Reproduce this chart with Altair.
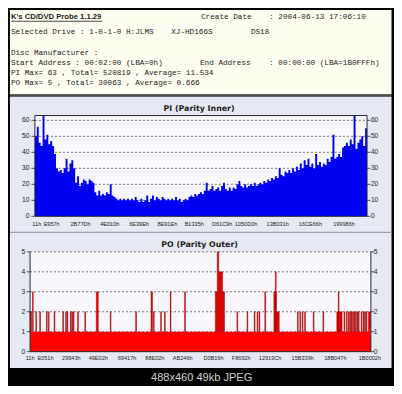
import altair as alt
import pandas as pd

# ---------------- data ----------------
header_title = "K's CD/DVD Probe 1.1.29"
header_texts = [
    "Create Date", ": 2004-06-13 17:06:10",
    "Selected Drive : 1-0-1-0 H:JLMS", "XJ-HD166S", "DS18",
    "Disc Manufacturer :",
    "Start Address  : 00:02:00 (LBA=0h)", "End Address", ": 00:00:00 (LBA=1B0FFFh)",
    "PI Max= 63 , Total= 520819 , Average= 11.534",
    "PO Max= 5 , Total= 30063 , Average= 0.666",
]
pi_title = "PI (Parity Inner)"
po_title = "PO (Parity Outer)"
footer_text = "488x460 49kb JPEG"

pi_values = [50, 56, 46, 44, 63, 48, 51, 45, 47, 44,
             39, 30, 28, 29, 27, 30, 36, 28, 33, 35,
             30, 21, 25, 19, 21, 23, 22, 20, 23, 22,
             21, 15, 13, 16, 13, 14, 13, 15, 14, 20,
             13, 12, 11, 10, 11, 10, 11, 10, 11, 10,
             11, 10, 12, 10, 9, 11, 9, 10, 13, 9,
             11, 13, 10, 12, 11, 10, 12, 11, 10, 11,
             10, 11, 10, 12, 10, 11, 9, 10, 11, 10,
             12, 13, 12, 14, 13, 14, 15, 14, 16, 21,
             16, 17, 19, 16, 17, 18, 16, 19, 21, 17,
             16, 18, 16, 18, 17, 20, 22, 19, 18, 20,
             18, 19, 20, 19, 21, 19, 20, 21, 20, 22,
             21, 23, 22, 24, 23, 25, 24, 30, 26, 25,
             28, 27, 29, 27, 30, 28, 31, 29, 33, 30,
             35, 32, 36, 31, 33, 30, 39, 32, 34, 31,
             33, 32, 36, 34, 37, 51, 36, 37, 39, 37,
             43, 44, 46, 44, 48, 45, 63, 42, 46, 48,
             50, 44, 55]
pi_max = 63
pi_y_ticks = [0, 10, 20, 30, 40, 50, 60]
pi_x_tick_labels = ["11h", "E957h", "2B77Dh", "4E010h", "6E39Eh", "8E91Eh",
                    "B1335h", "D61C9h", "1050D0h", "13B031h", "16CE66h", "199986h"]
pi_x_tick_at = [1, 8.75, 23.8, 39, 54.25, 69, 83, 97.5, 110, 126.5, 143.5, 161]

po_len = 355
po_max = 5
po_base_level = 1
po_y_ticks = [0, 1, 2, 3, 4, 5]
po_x_tick_labels = ["11h", "E051h", "29943h", "49E02h", "69417h", "88E02h", "AB246h",
                    "D0B19h", "F8692h", "12919Ch", "15B339h", "18B047h", "1B0002h"]
po_x_tick_at = [0, 16, 43, 71, 101, 130, 159, 191, 220, 250, 284, 318, 354]
po_spike_at = [0, 2.5, 6, 10, 17, 19, 25, 34, 37, 38.5, 42, 43.5, 45, 49.5, 57, 69, 83.5,
               110, 126, 128.5, 136, 140, 146, 161, 193, 195, 196.5, 200.5, 215.5, 226,
               233.5, 236.5, 238.5, 244.5, 254, 255.5, 256.5, 278.5, 281, 283.5, 286, 295,
               305, 319.5, 321, 327, 329.5, 331.5, 333, 334.5, 336, 337.5, 339, 340.5, 342,
               345, 347, 348.5, 350, 352.5]
po_spike_len = [1.5, 0.8, 0.8, 0.8, 0.8, 0.8, 0.8, 0.8, 0.8, 0.8, 0.8, 0.8, 0.8, 0.8, 0.8, 2, 0.8,
                0.8, 1.5, 0.8, 0.8, 0.8, 0.8, 0.8, 2, 1.5, 4, 2, 0.8, 0.8,
                0.8, 0.8, 0.8, 0.8, 2.5, 0.8, 3, 0.8, 0.8, 0.8, 0.8, 0.8,
                0.8, 5.5, 0.8, 0.8, 0.8, 0.8, 0.8, 0.8, 0.8, 0.8, 0.8, 0.8, 0.8,
                0.8, 0.8, 0.8, 0.8, 2]
po_spike_value = [2, 3, 2, 2, 2, 2, 2, 2, 2, 2, 2, 2, 2, 2, 2, 3, 2,
                  2, 3, 2, 2, 2, 3, 3, 3, 5, 4, 3, 2, 2,
                  2, 2, 2, 3, 3, 4, 2, 2, 2, 2, 2, 2,
                  2, 2, 3, 2, 2, 2, 2, 2, 2, 2, 2, 2, 2,
                  2, 2, 2, 2, 2]

# ---------------- layout / style ----------------
S = 0.96
W, H = 386, 378


def p(v):
    return round(v * S, 2)


HEADER_BG = "#fefdf1"
PANEL_BG = "#e6e9f1"
PLOT_BG = "#f8f8fc"
FRAME = "#2a2a35"
GRID = "#555555"
TEXT = "#1c1c1c"
MONO = "Liberation Mono"
SANS = "Liberation Sans"

one = pd.DataFrame({"k": [0]})


def box(x1, y1, x2, y2, **kw):
    return alt.Chart(one).mark_rect(**kw).encode(
        x=alt.value(p(x1)), x2=alt.value(p(x2)), y=alt.value(p(y1)), y2=alt.value(p(y2)))


def txt(s, x, y, **kw):
    kw.setdefault("baseline", "middle")
    kw.setdefault("align", "left")
    return alt.Chart(one).mark_text(text=s, **kw).encode(x=alt.value(p(x)), y=alt.value(p(y)))


def encoders(xs, ys):
    def X(f):
        return alt.X(f, type="quantitative", scale=xs, axis=None)

    def XD(d):
        return alt.XDatum(d, type="quantitative", scale=xs, axis=None)

    def Y(f):
        return alt.Y(f, type="quantitative", scale=ys, axis=None)

    def YD(d):
        return alt.YDatum(d, type="quantitative", scale=ys, axis=None)
    return X, XD, Y, YD


# ---- PI chart ----
N = len(pi_values)
pi_xs = alt.Scale(domain=[0, N], range=[p(28), p(374)], nice=False, zero=False)
pi_ys = alt.Scale(domain=[0, pi_max], range=[p(217), p(112)], nice=False, zero=False)
X, XD, Y, YD = encoders(pi_xs, pi_ys)

pi_df = pd.DataFrame({"i": list(range(N + 1)), "v": pi_values + [pi_values[-1]]})
pi_ticks_df = pd.DataFrame({"t": pi_y_ticks})
pi_grid_df = pd.DataFrame({"t": [t for t in pi_y_ticks if t > 0]})
pi_xlab_df = pd.DataFrame({"at": pi_x_tick_at, "lab": pi_x_tick_labels})

pi_layer = alt.layer(
    alt.Chart(one).mark_rect(color=PLOT_BG).encode(
        x=XD(0), x2=alt.datum(N), y=YD(0), y2=alt.datum(pi_max)),
    alt.Chart(pi_grid_df).mark_rule(color=GRID, strokeDash=[2, 2], strokeWidth=0.8).encode(
        y=Y("t"), x=XD(0), x2=alt.datum(N)),
    alt.Chart(pi_df).mark_area(interpolate="step-after", color="#0000f4").encode(
        x=X("i"), y=Y("v"), y2=alt.datum(0)),
    alt.Chart(one).mark_rect(fillOpacity=0, stroke=FRAME, strokeWidth=1).encode(
        x=XD(0), x2=alt.datum(N), y=YD(0), y2=alt.datum(pi_max)),
    alt.Chart(pi_ticks_df).mark_rule(color=FRAME, strokeWidth=0.8).encode(
        y=Y("t"), x=XD(-1.8), x2=alt.datum(0)),
    alt.Chart(pi_ticks_df).mark_rule(color=FRAME, strokeWidth=0.8).encode(
        y=Y("t"), x=XD(N), x2=alt.datum(N + 1.8)),
    alt.Chart(pi_ticks_df).mark_text(align="right", baseline="middle", dx=-p(5.5),
                                     font=SANS, fontSize=p(7), color=TEXT).encode(
        y=Y("t"), x=XD(0), text=alt.Text("t:Q")),
    alt.Chart(pi_ticks_df).mark_text(align="left", baseline="middle", dx=p(4),
                                     font=SANS, fontSize=p(7), color=TEXT).encode(
        y=Y("t"), x=XD(N), text=alt.Text("t:Q")),
    alt.Chart(pi_xlab_df).mark_text(align="center", baseline="middle", dy=p(8.5),
                                    font=SANS, fontSize=p(5.8), color=TEXT).encode(
        x=X("at"), y=YD(0), text=alt.Text("lab:N")),
)

# ---- PO chart ----
po_xs = alt.Scale(domain=[0, po_len], range=[p(23), p(378)], nice=False, zero=False)
po_ys = alt.Scale(domain=[0, po_max], range=[p(358), p(254)], nice=False, zero=False)
X, XD, Y, YD = encoders(po_xs, po_ys)

po_spikes = pd.DataFrame({"a": po_spike_at, "v": po_spike_value})
po_spikes["b"] = po_spikes["a"] + pd.Series(po_spike_len)
po_ticks_df = pd.DataFrame({"t": po_y_ticks})
po_grid_df = pd.DataFrame({"t": [t for t in po_y_ticks if t > 0]})
po_xlab_df = pd.DataFrame({"at": po_x_tick_at, "lab": po_x_tick_labels})

po_layer = alt.layer(
    alt.Chart(one).mark_rect(color=PLOT_BG).encode(
        x=XD(0), x2=alt.datum(po_len), y=YD(0), y2=alt.datum(po_max)),
    alt.Chart(po_grid_df).mark_rule(color=GRID, strokeDash=[2, 2], strokeWidth=0.8).encode(
        y=Y("t"), x=XD(0), x2=alt.datum(po_len)),
    alt.Chart(one).mark_rect(color="#ff0000").encode(
        x=XD(0), x2=alt.datum(po_len), y=YD(0), y2=alt.datum(po_base_level)),
    alt.Chart(po_spikes).mark_rect(color="#e80000", stroke="#990000", strokeWidth=0.5).encode(
        x=X("a"), x2="b", y=Y("v"), y2=alt.datum(po_base_level)),
    alt.Chart(one).mark_rule(color=FRAME, strokeWidth=1).encode(
        x=XD(0), y=YD(0), y2=alt.datum(po_max)),
    alt.Chart(one).mark_rule(color=FRAME, strokeWidth=1).encode(
        x=XD(po_len), y=YD(0), y2=alt.datum(po_max)),
    alt.Chart(one).mark_rule(color=FRAME, strokeWidth=1).encode(
        y=YD(0), x=XD(0), x2=alt.datum(po_len)),
    alt.Chart(po_ticks_df).mark_rule(color=FRAME, strokeWidth=0.8).encode(
        y=Y("t"), x=XD(-3.5), x2=alt.datum(0)),
    alt.Chart(po_ticks_df).mark_rule(color=FRAME, strokeWidth=0.8).encode(
        y=Y("t"), x=XD(po_len), x2=alt.datum(po_len + 3.5)),
    alt.Chart(po_ticks_df).mark_text(align="right", baseline="middle", dx=-p(5),
                                     font=SANS, fontSize=p(7), color=TEXT).encode(
        y=Y("t"), x=XD(0), text=alt.Text("t:Q")),
    alt.Chart(po_ticks_df).mark_text(align="left", baseline="middle", dx=p(3),
                                     font=SANS, fontSize=p(7), color=TEXT).encode(
        y=Y("t"), x=XD(po_len), text=alt.Text("t:Q")),
    alt.Chart(po_xlab_df).mark_text(align="center", baseline="middle", dy=p(7),
                                    font=SANS, fontSize=p(5.8), color=TEXT).encode(
        x=X("at"), y=YD(0), text=alt.Text("lab:N")),
)

# ---- frame, header, titles, footer ----
header_pos = [(201, 9.5), (272, 9.5), (3, 25), (170, 25), (253, 25), (3, 46.5),
              (3, 57), (200, 57), (272, 57), (3, 67.5), (3, 78)]

layers = [
    box(2, 2, 399.5, 90, color=HEADER_BG),
    box(2, 90, 399.5, 92.5, color="#4a4a4a"),
    box(2, 92.5, 399.5, 375, color=PANEL_BG),
    box(2, 233, 399.5, 234.5, color="#9aa0aa"),
    txt(header_title, 3, 9.5, font=SANS, fontWeight="bold", fontSize=p(8), color=TEXT),
    alt.Chart(one).mark_rule(color=TEXT, strokeWidth=0.8).encode(
        x=alt.value(p(3)), x2=alt.value(p(98)), y=alt.value(p(13.8))),
]
for s, (hx, hy) in zip(header_texts, header_pos):
    layers.append(txt(s, hx, hy, font=MONO, fontSize=p(8), color=TEXT))

layers += [
    pi_layer,
    po_layer,
    txt(pi_title, 199, 105.5, align="center", font="DejaVu Sans", fontWeight="bold",
        fontSize=p(8.2), color=TEXT),
    txt(po_title, 199.5, 246.5, align="center", font="DejaVu Sans", fontWeight="bold",
        fontSize=p(8.2), color=TEXT),
    txt(footer_text, 201.7, 385.7, align="center", font=SANS, fontSize=p(11.5), color="#d0d0d0"),
]

chart = alt.layer(*layers).resolve_scale(
    x="independent", y="independent"
).properties(
    width=W, height=H, autosize=alt.AutoSizeParams(type="none"), padding=0,
    background="#000000"
).configure_view(strokeWidth=0)

chart.save("out.html", embed_options={"renderer": "svg", "actions": False})
